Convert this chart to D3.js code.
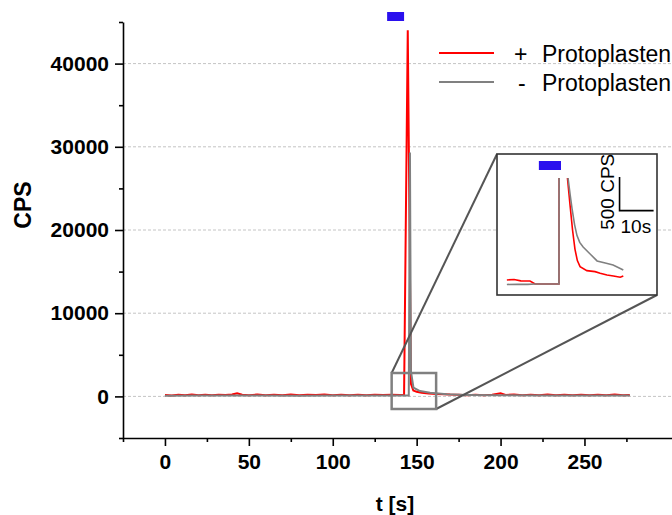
<!DOCTYPE html>
<html>
<head>
<meta charset="utf-8">
<script src="https://cdn.jsdelivr.net/npm/d3@7"></script>
<style>
  body { margin: 0; background: #fff; }
  svg { display: block; font-family: "Liberation Sans", Arial, sans-serif; }
</style>
</head>
<body>
<div id="chart"></div>
<script>
// main trace, + Protoplasten (red)
const plusTime = [0, 4, 8, 12, 16, 20, 24, 28, 32, 36, 40, 43, 46, 50, 55, 60, 65, 70, 75, 80, 85, 90, 95, 100,
  105, 110, 115, 120, 125, 130, 135, 140, 142.5, 144.7, 146.6, 148, 150, 153, 157, 162, 170, 175, 180, 185,
  190, 195, 200, 203, 208, 213, 218, 223, 228, 233, 238, 243, 248, 253, 258, 263, 268, 273, 277];
const plusCps = [180, 120, 200, 140, 220, 130, 190, 150, 210, 160, 220, 380, 200, 150, 220, 140, 200, 150, 230, 130,
  190, 160, 220, 140, 200, 150, 210, 140, 190, 160, 200, 170, 180, 44000, 1500, 700, 560, 440, 360, 300, 220, 200,
  150, 210, 140, 200, 380, 180, 220, 140, 210, 150, 220, 140, 200, 150, 210, 140, 200, 150, 220, 140, 180];

// main trace, - Protoplasten (gray)
const minusTime = [0, 20, 40, 60, 80, 100, 120, 140, 145.3, 146.0, 146.6, 148.1, 152, 158, 168, 180, 200, 230, 260, 277];
const minusCps = [90, 100, 95, 100, 90, 100, 95, 100, 100, 29300, 3000, 1040, 640, 440, 260, 180, 130, 110, 100, 100];

// inset traces (zoomed around the stimulus)
const insetPlusTime = [122.9, 125, 127, 129.7, 131.2, 135, 138.2, 139.2, 140.7, 141.5, 142.2, 142.9, 143.6, 144.4,
  146.4, 148.8, 150.3, 152.3, 154.2, 156.2, 157.1];
const insetPlusCps = [163, 170, 150, 148, 103, 103, 103, 44000, 1672, 1250, 900, 620, 450, 360, 301, 286, 262, 237,
  222, 203, 222];
const insetMinusTime = [122.9, 126, 129, 131.2, 135, 138.2, 139.0, 140.9, 141.5, 142.1, 142.8, 143.5, 144.3, 145.3,
  147.5, 149.4, 151.8, 154.1, 157.1];
const insetMinusCps = [96, 100, 98, 103, 103, 103, 30000, 1661, 1420, 1200, 980, 820, 720, 652, 540, 445, 415, 385, 311];

const stimulus = [132.4, 142.5];
const insetStimulus = [132.3, 138.8];
const zoomWindow = { t: [135.1, 161.6], cps: [-1514, 2812] };
const scaleBar = { t: 156, cps: 1190, dt: 10, dcps: 500 };

const xMajor = [0, 50, 100, 150, 200, 250];
const xMinor = [-25, 25, 75, 125, 175, 225, 275];
const yMajor = [0, 10000, 20000, 30000, 40000];
const yMinor = [-5000, 5000, 15000, 25000, 35000, 45000];

const seriesNames = ["+", "-"];
const seriesLabel = "Protoplasten";
const colours = ["#ff0000", "#808080"];

const width = 672;
const height = 515;

const svg = d3.select("#chart")
              .append("svg")
              .attr("width", width)
              .attr("height", height);

const x = d3.scaleLinear().domain([-25, 303]).range([123, 673.4]);
const y = d3.scaleLinear().domain([-5000, 45000]).range([438, 22]);

// grid
svg.append("g")
   .selectAll("line")
   .data(yMajor)
   .enter()
   .append("line")
   .attr("x1", x(-25))
   .attr("x2", width)
   .attr("y1", d => y(d))
   .attr("y2", d => y(d))
   .attr("stroke", "#c4c4c4")
   .attr("stroke-width", 1)
   .attr("stroke-dasharray", "3,2");

// axes
function styleAxis(g){
  g.selectAll("path, line").attr("stroke", "#000").attr("stroke-width", 1.6);
  g.selectAll("text").attr("font-size", 21).attr("font-weight", "bold").attr("fill", "#000")
   .attr("font-family", "'Liberation Sans', Arial, sans-serif");
}

svg.append("g")
   .attr("transform", `translate(0,${y(-5000)})`)
   .call(d3.axisBottom(x).tickValues(xMajor).tickSize(8).tickSizeOuter(0).tickPadding(8))
   .call(styleAxis);

svg.append("g")
   .attr("transform", `translate(0,${y(-5000)})`)
   .call(d3.axisBottom(x).tickValues(xMinor).tickSize(4).tickFormat(""))
   .call(g => g.select(".domain").remove())
   .call(styleAxis);

svg.append("g")
   .attr("transform", `translate(${x(-25)},0)`)
   .call(d3.axisLeft(y).tickValues(yMajor).tickSize(8).tickSizeOuter(0).tickPadding(6).tickFormat(d3.format("d")))
   .call(styleAxis);

svg.append("g")
   .attr("transform", `translate(${x(-25)},0)`)
   .call(d3.axisLeft(y).tickValues(yMinor).tickSize(4).tickFormat(""))
   .call(g => g.select(".domain").remove())
   .call(styleAxis);

svg.append("text")
   .attr("transform", `translate(31,205) rotate(-90)`)
   .attr("text-anchor", "middle")
   .attr("font-size", 23)
   .attr("font-weight", "bold")
   .text("CPS");

svg.append("text")
   .attr("x", 395)
   .attr("y", 511)
   .attr("text-anchor", "middle")
   .attr("font-size", 21)
   .attr("font-weight", "bold")
   .text("t [s]");

// traces
const line = d3.line().x(d => x(d[0])).y(d => y(d[1]));

svg.append("path")
   .datum(d3.zip(plusTime, plusCps))
   .attr("d", line)
   .attr("fill", "none")
   .attr("stroke", colours[0])
   .attr("stroke-width", 2);

svg.append("path")
   .datum(d3.zip(minusTime, minusCps))
   .attr("d", line)
   .attr("fill", "none")
   .attr("stroke", colours[1])
   .attr("stroke-width", 2);

// stimulus bar
svg.append("rect")
   .attr("x", x(stimulus[0]))
   .attr("y", 12)
   .attr("width", x(stimulus[1]) - x(stimulus[0]))
   .attr("height", 9)
   .attr("fill", "#2a10ee");

// inset
const ix = d3.scaleLinear().domain([120, 167]).range([497, 657]);
const iy = d3.scaleLinear().domain([-60, 2030]).range([295, 154]);

// zoom window + connectors
const zx0 = x(zoomWindow.t[0]), zx1 = x(zoomWindow.t[1]);
const zy0 = y(zoomWindow.cps[1]), zy1 = y(zoomWindow.cps[0]);

svg.append("line")
   .attr("x1", zx0).attr("y1", zy0)
   .attr("x2", ix.range()[0]).attr("y2", iy.range()[1])
   .attr("stroke", "#555").attr("stroke-width", 2);

svg.append("line")
   .attr("x1", zx1).attr("y1", zy1)
   .attr("x2", ix.range()[1]).attr("y2", iy.range()[0])
   .attr("stroke", "#555").attr("stroke-width", 2);

svg.append("rect")
   .attr("x", zx0).attr("y", zy0)
   .attr("width", zx1 - zx0).attr("height", zy1 - zy0)
   .attr("fill", "none")
   .attr("stroke", "#808080")
   .attr("stroke-width", 2.5);

svg.append("rect")
   .attr("x", ix.range()[0]).attr("y", iy.range()[1])
   .attr("width", ix.range()[1] - ix.range()[0])
   .attr("height", iy.range()[0] - iy.range()[1])
   .attr("fill", "#fff")
   .attr("stroke", "#333")
   .attr("stroke-width", 1.6);

svg.append("clipPath")
   .attr("id", "inset-clip")
   .append("rect")
   .attr("x", ix.range()[0])
   .attr("y", 178)
   .attr("width", ix.range()[1] - ix.range()[0])
   .attr("height", iy.range()[0] - 178);

const iline = d3.line().x(d => ix(d[0])).y(d => iy(d[1]));
const inset = svg.append("g").attr("clip-path", "url(#inset-clip)");

inset.append("path")
     .datum(d3.zip(insetPlusTime, insetPlusCps))
     .attr("d", iline)
     .attr("fill", "none")
     .attr("stroke", colours[0])
     .attr("stroke-width", 1.6);

inset.append("path")
     .datum(d3.zip(insetMinusTime, insetMinusCps))
     .attr("d", iline)
     .attr("fill", "none")
     .attr("stroke", colours[1])
     .attr("stroke-width", 1.6);

svg.append("rect")
   .attr("x", ix(insetStimulus[0]))
   .attr("y", 161)
   .attr("width", ix(insetStimulus[1]) - ix(insetStimulus[0]))
   .attr("height", 9)
   .attr("fill", "#2a10ee");

// scale bar
svg.append("path")
   .attr("d", `M${ix(scaleBar.t)},${iy(scaleBar.cps + scaleBar.dcps)}V${iy(scaleBar.cps)}H${ix(scaleBar.t + scaleBar.dt)}`)
   .attr("fill", "none")
   .attr("stroke", "#000")
   .attr("stroke-width", 1.6);

svg.append("text")
   .attr("transform", `translate(${ix(scaleBar.t) - 6},${iy(scaleBar.cps + scaleBar.dcps / 2) - 2}) rotate(-90)`)
   .attr("text-anchor", "middle")
   .attr("font-size", 19)
   .text("500 CPS");

svg.append("text")
   .attr("x", ix(scaleBar.t) + 1)
   .attr("y", iy(scaleBar.cps) + 22)
   .attr("font-size", 19)
   .text("10s");

// legend
const legend = svg.selectAll(".legend")
                  .data(seriesNames)
                  .enter()
                  .append("g")
                  .attr("class", "legend")
                  .attr("transform", (d, i) => `translate(0, ${53 + i * 29})`);

legend.append("line")
      .attr("x1", 439).attr("x2", 494)
      .attr("y1", 0).attr("y2", 0)
      .attr("stroke", (d, i) => colours[i])
      .attr("stroke-width", 2);

legend.append("text")
      .attr("x", (d, i) => i === 0 ? 514 : 518)
      .attr("y", 9)
      .attr("font-size", 23)
      .text(d => d);

legend.append("text")
      .attr("x", 542)
      .attr("y", 9)
      .attr("font-size", 23)
      .text(seriesLabel);
</script>
</body>
</html>
